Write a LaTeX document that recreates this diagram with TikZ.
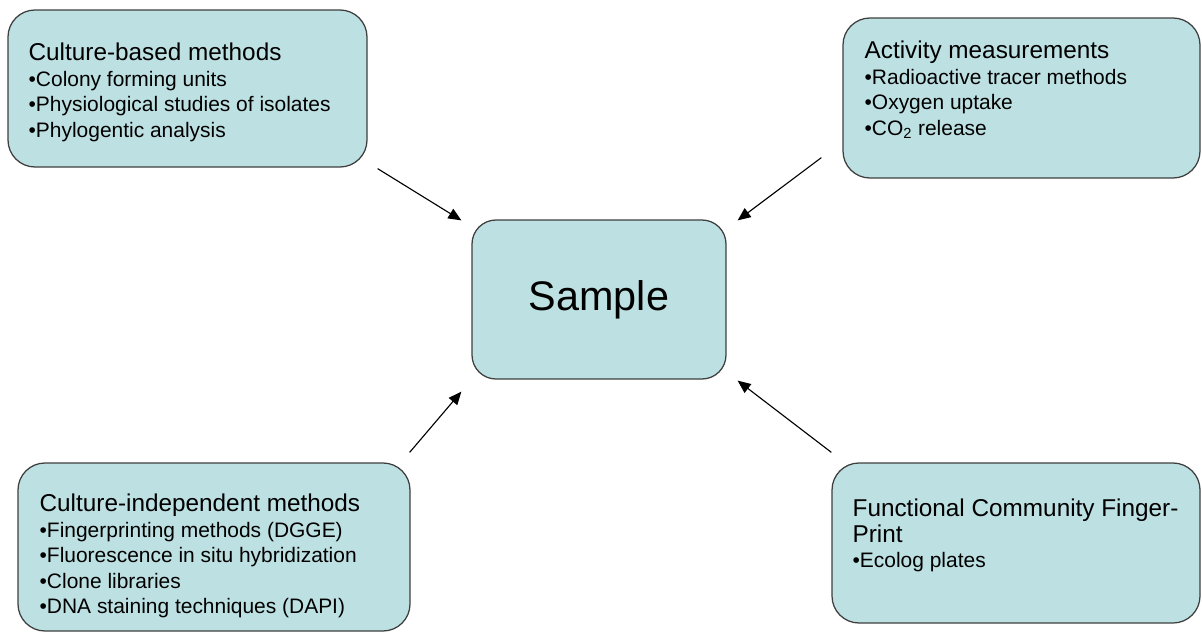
\documentclass[tikz,border=0pt]{standalone}
\usepackage{fontspec}
\setmainfont{Liberation Sans}
\usepackage{tikz}
\usetikzlibrary{arrows.meta,positioning}
\newlength\pxu
\setlength\pxu{0.025cm}
\definecolor{Pane}{HTML}{BDE0E2}
\definecolor{Rim}{HTML}{3F3F3F}
\newcommand{\headfont}{\fontsize{17.3}{18.1}\selectfont}
\tikzset{
  box/.style={draw=Rim, line width=0.9pt, rounded corners=27\pxu, fill=Pane,
              inner sep=0pt},
  listing/.style={anchor=north west, align=left, inner sep=0pt,
                  font=\fontsize{14.9}{18.1}\selectfont},
  centre/.style={box, rounded corners=24\pxu, minimum width=254\pxu,
                 minimum height=159\pxu, font=\fontsize{29.4}{32}\selectfont},
  arrow/.style={-{Triangle[length=3.25mm,width=2.75mm]}, line width=0.8pt, draw=black},
}
\begin{document}
\begin{tikzpicture}[x=\pxu, y=-\pxu]
  \useasboundingbox (0,0) rectangle (1202,632);
  \node[centre] (sample) at (599,299.5) {Sample};
  \node[box, minimum width=359\pxu, minimum height=157\pxu] (based) at (187.5,88.5) {};
  \node[box, minimum width=357\pxu, minimum height=160\pxu] (activity) at (1021.5,98) {};
  \node[box, minimum width=392\pxu, minimum height=168\pxu] (indep) at (214,547) {};
  \node[box, minimum width=368\pxu, minimum height=160\pxu] (functional) at (1016,543) {};
  \node[listing] (based-txt) at ([shift={(21,33.5)}]based.north west)
    {{\headfont Culture-based methods}\\
     •Colony forming units\\
     •Physiological studies of isolates\\
     •Phylogentic analysis};
  \node[listing] (activity-txt) at ([shift={(22,23.5)}]activity.north west)
    {{\headfont Activity measurements}\\
     •Radioactive tracer methods\\
     •Oxygen uptake\\
     •CO\textsubscript{2} release};
  \node[listing] (indep-txt) at ([shift={(22,31.5)}]indep.north west)
    {{\headfont Culture-independent methods}\\
     •Fingerprinting methods (DGGE)\\
     •Fluorescence in situ hybridization\\
     •Clone libraries\\
     •DNA staining techniques (DAPI)};
  \node[listing] (functional-txt) at ([shift={(21,36.5)}]functional.north west)
    {{\headfont Functional Community Finger-}\\
     {\headfont Print}\\
     •Ecolog plates};
  \coordinate (based-out) at ([shift={(10,1)}]based.south east);
  \coordinate (based-in) at ([shift={(-10,1)}]sample.north west);
  \coordinate (activity-out) at ([shift={(-21,-21)}]activity.south west);
  \coordinate (activity-in) at ([shift={(11,1)}]sample.north east);
  \coordinate (indep-out) at ([shift={(-1,-10)}]indep.north east);
  \coordinate (indep-in) at ([shift={(-10,12)}]sample.south west);
  \coordinate (functional-out) at ([shift={(0,-10)}]functional.north west);
  \coordinate (functional-in) at ([shift={(11,1)}]sample.south east);
  \draw[arrow] (based-out)--(based-in);
  \draw[arrow] (activity-out)--(activity-in);
  \draw[arrow] (indep-out)--(indep-in);
  \draw[arrow] (functional-out)--(functional-in);
\end{tikzpicture}
\end{document}
